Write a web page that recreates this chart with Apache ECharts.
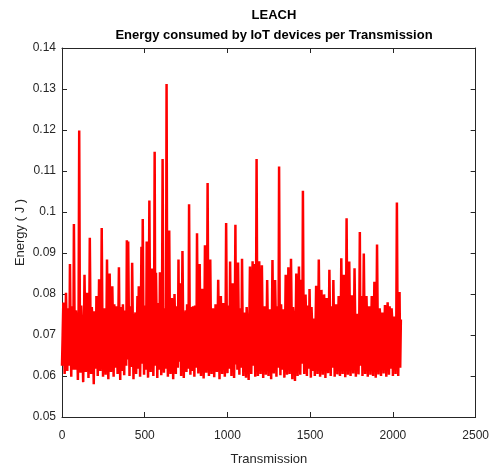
<!DOCTYPE html>
<html>
<head>
<meta charset="utf-8">
<script src="https://cdn.jsdelivr.net/npm/echarts@6/dist/echarts.min.js"></script>
<style>
  html, body { margin: 0; padding: 0; background: #fff; }
  #chart { width: 492px; height: 471px; }
</style>
</head>
<body>
<div id="chart"></div>
<script>
// energy per transmission
// energy[i] is at transmission 8*i, energyMid[i] sits halfway to the next one (8*i + 4)
const step = 8;
const energy = [
  0.0625, 0.0779, 0.0605, 0.0803, 0.0612, 0.0705, 0.0873, 0.0598, 0.0712, 0.0971,
  0.0615, 0.0740, 0.0590, 0.1199, 0.0608, 0.0725, 0.0585, 0.0847, 0.0610, 0.0803,
  0.0595, 0.0937, 0.0605, 0.0738, 0.0580, 0.0700, 0.0795, 0.0600, 0.0836, 0.0612,
  0.0961, 0.0598, 0.0765, 0.0603, 0.0884, 0.0592, 0.0850, 0.0610, 0.0819, 0.0598,
  0.0720, 0.0770, 0.0605, 0.0865, 0.0590, 0.0712, 0.0775, 0.0602, 0.0740, 0.0931,
  0.0928, 0.0600, 0.0715, 0.0876, 0.0592, 0.0740, 0.0605, 0.0795, 0.0819, 0.0598,
  0.0915, 0.0983, 0.0603, 0.0745, 0.0928, 0.0596, 0.1028, 0.0610, 0.0862, 0.0600,
  0.1147, 0.0852, 0.0595, 0.0720, 0.0853, 0.0602, 0.1129, 0.0608, 0.0735, 0.1312,
  0.0598, 0.0955, 0.0605, 0.0790, 0.0592, 0.0800, 0.0605, 0.0730, 0.0884, 0.0826,
  0.0600, 0.0905, 0.0595, 0.0745, 0.0610, 0.0725, 0.1019, 0.0603, 0.0715, 0.0770,
  0.0598, 0.0730, 0.0948, 0.0606, 0.0873, 0.0600, 0.0813, 0.0594, 0.0919, 0.0608,
  0.1071, 0.0600, 0.0884, 0.0605, 0.0765, 0.0597, 0.0775, 0.0610, 0.0835, 0.0592,
  0.0795, 0.0605, 0.0778, 0.0598, 0.0973, 0.0607, 0.0730, 0.0879, 0.0600, 0.0826,
  0.0595, 0.0969, 0.0790, 0.0877, 0.0603, 0.0740, 0.0886, 0.0600, 0.0755, 0.0596,
  0.0727, 0.0590, 0.0867, 0.0605, 0.0880, 0.0873, 0.0598, 0.1129, 0.0600, 0.0880,
  0.0605, 0.0870, 0.0595, 0.0770, 0.0603, 0.0834, 0.0600, 0.0763, 0.0592, 0.0883,
  0.0606, 0.0834, 0.0598, 0.0740, 0.1111, 0.0602, 0.0725, 0.0763, 0.0596, 0.0847,
  0.0603, 0.0865, 0.0605, 0.0886, 0.0592, 0.0747, 0.0588, 0.0850, 0.0600, 0.0867,
  0.0603, 0.0835, 0.1052, 0.0605, 0.0799, 0.0600, 0.0730, 0.0812, 0.0596, 0.0720,
  0.0740, 0.0600, 0.0820, 0.0605, 0.0884, 0.0598, 0.0810, 0.0603, 0.0799, 0.0595,
  0.0790, 0.0607, 0.0859, 0.0600, 0.0730, 0.0834, 0.0598, 0.0775, 0.0604, 0.0795,
  0.0600, 0.0887, 0.0605, 0.0847, 0.0597, 0.0985, 0.0603, 0.0879, 0.0600, 0.0797,
  0.0606, 0.0863, 0.0598, 0.0752, 0.0604, 0.0951, 0.0795, 0.0600, 0.0899, 0.0605,
  0.0795, 0.0598, 0.0770, 0.0603, 0.0795, 0.0600, 0.0830, 0.0596, 0.0921, 0.0604,
  0.0765, 0.0600, 0.0755, 0.0606, 0.0773, 0.0598, 0.0780, 0.0603, 0.0725, 0.0765,
  0.0600, 0.0745, 0.0605, 0.1023, 0.0600, 0.0805, 0.0738
];
const energyMid = [
  0.0700, 0.0690, 0.0668, 0.0720, 0.0765, 0.0625, 0.0710, 0.0770, 0.0615, 0.0730,
  0.0760, 0.0680, 0.0710, 0.0735, 0.0772, 0.0660, 0.0700, 0.0722, 0.0695, 0.0708,
  0.0688, 0.0745, 0.0768, 0.0665, 0.0758, 0.0618, 0.0730, 0.0690, 0.0712, 0.0700,
  0.0742, 0.0680, 0.0725, 0.0690, 0.0715, 0.0705, 0.0735, 0.0670, 0.0728, 0.0775,
  0.0620, 0.0700, 0.0718, 0.0690, 0.0768, 0.0612, 0.0720, 0.0760, 0.0625, 0.0640,
  0.0740, 0.0770, 0.0622, 0.0730, 0.0705, 0.0755, 0.0690, 0.0618, 0.0725, 0.0700,
  0.0630, 0.0738, 0.0772, 0.0615, 0.0720, 0.0710, 0.0750, 0.0695, 0.0728, 0.0690,
  0.0625, 0.0735, 0.0778, 0.0615, 0.0710, 0.0700, 0.0742, 0.0765, 0.0618, 0.0725,
  0.0705, 0.0738, 0.0690, 0.0722, 0.0700, 0.0715, 0.0770, 0.0620, 0.0635, 0.0718,
  0.0700, 0.0740, 0.0690, 0.0760, 0.0775, 0.0618, 0.0730, 0.0768, 0.0612, 0.0708,
  0.0772, 0.0620, 0.0735, 0.0695, 0.0720, 0.0705, 0.0730, 0.0688, 0.0745, 0.0700,
  0.0732, 0.0695, 0.0722, 0.0705, 0.0738, 0.0690, 0.0728, 0.0700, 0.0718, 0.0735,
  0.0700, 0.0725, 0.0740, 0.0690, 0.0733, 0.0772, 0.0618, 0.0725, 0.0698, 0.0735,
  0.0705, 0.0628, 0.0615, 0.0730, 0.0765, 0.0620, 0.0712, 0.0700, 0.0745, 0.0768,
  0.0690, 0.0722, 0.0700, 0.0738, 0.0625, 0.0730, 0.0705, 0.0742, 0.0695, 0.0728,
  0.0710, 0.0735, 0.0700, 0.0745, 0.0690, 0.0725, 0.0712, 0.0738, 0.0700, 0.0720,
  0.0695, 0.0740, 0.0770, 0.0620, 0.0733, 0.0775, 0.0615, 0.0722, 0.0705, 0.0738,
  0.0690, 0.0728, 0.0700, 0.0742, 0.0768, 0.0700, 0.0715, 0.0730, 0.0695, 0.0740,
  0.0710, 0.0630, 0.0735, 0.0700, 0.0728, 0.0772, 0.0618, 0.0720, 0.0768, 0.0612,
  0.0735, 0.0705, 0.0740, 0.0698, 0.0725, 0.0712, 0.0730, 0.0700, 0.0745, 0.0710,
  0.0722, 0.0695, 0.0738, 0.0770, 0.0620, 0.0728, 0.0705, 0.0740, 0.0700, 0.0732,
  0.0695, 0.0725, 0.0710, 0.0738, 0.0700, 0.0730, 0.0692, 0.0742, 0.0705, 0.0728,
  0.0700, 0.0735, 0.0712, 0.0745, 0.0698, 0.0625, 0.0722, 0.0705, 0.0740, 0.0700,
  0.0730, 0.0715, 0.0738, 0.0698, 0.0725, 0.0710, 0.0742, 0.0700, 0.0733, 0.0715,
  0.0740, 0.0705, 0.0730, 0.0710, 0.0738, 0.0700, 0.0725, 0.0770, 0.0618, 0.0735,
  0.0712, 0.0740, 0.0700, 0.0728, 0.0705, 0.0620
];

const chart = echarts.init(document.getElementById('chart'), null, { renderer: 'canvas' });

const axisColor = '#262626';
const font = 'Liberation Sans, Arial, Helvetica, sans-serif';

const points = [];
energy.forEach(function (v, i) {
  points.push([i * step, v]);
  if (i < energyMid.length) points.push([i * step + step / 2, energyMid[i]]);
});

const boxAxis = {
  axisLine: { show: true, onZero: false, lineStyle: { color: axisColor, width: 1 } },
  axisTick: { show: true, inside: true, length: 5, lineStyle: { color: axisColor } },
  splitLine: { show: false }
};

const option = {
  backgroundColor: '#ffffff',
  animation: false,
  title: [{
    text: 'LEACH',
    left: 269, top: 4, textAlign: 'center',
    textStyle: { fontFamily: font, fontSize: 13, fontWeight: 'bold', color: '#000' }
  }, {
    text: 'Energy consumed by IoT devices per Transmission',
    left: 269, top: 24, textAlign: 'center',
    textStyle: { fontFamily: font, fontSize: 13, fontWeight: 'bold', color: '#000' }
  }],
  grid: { left: 62, right: 16, top: 48, bottom: 48, containLabel: false },
  xAxis: [Object.assign({
    type: 'value', position: 'bottom', min: 0, max: 2500, interval: 500,
    name: 'Transmission', nameLocation: 'middle', nameGap: 36, nameMoveOverlap: false,
    nameTextStyle: { fontFamily: font, fontSize: 13, color: axisColor },
    axisLabel: {
      margin: 13, fontFamily: font, fontSize: 12, color: axisColor,
      formatter: function (v) { return String(v); }
    }
  }, boxAxis), Object.assign({
    type: 'value', position: 'top', min: 0, max: 2500, interval: 500,
    axisLabel: { show: false }
  }, boxAxis)],
  yAxis: [Object.assign({
    type: 'value', position: 'left', min: 0.05, max: 0.14, interval: 0.01,
    name: 'Energy ( J )', nameLocation: 'middle', nameGap: 35, nameRotate: 90,
    nameMoveOverlap: false,
    nameTextStyle: { fontFamily: font, fontSize: 13, color: axisColor },
    axisLabel: { margin: 6, fontFamily: font, fontSize: 12, color: axisColor }
  }, boxAxis), Object.assign({
    type: 'value', position: 'right', min: 0.05, max: 0.14, interval: 0.01,
    axisLabel: { show: false }
  }, boxAxis)],
  series: [{
    type: 'line',
    xAxisIndex: 0, yAxisIndex: 0,
    data: points,
    showSymbol: false,
    symbol: 'none',
    lineStyle: { color: '#ff0000', width: 2.5 },
    itemStyle: { color: '#ff0000' }
  }]
};

chart.setOption(option);
</script>
</body>
</html>
